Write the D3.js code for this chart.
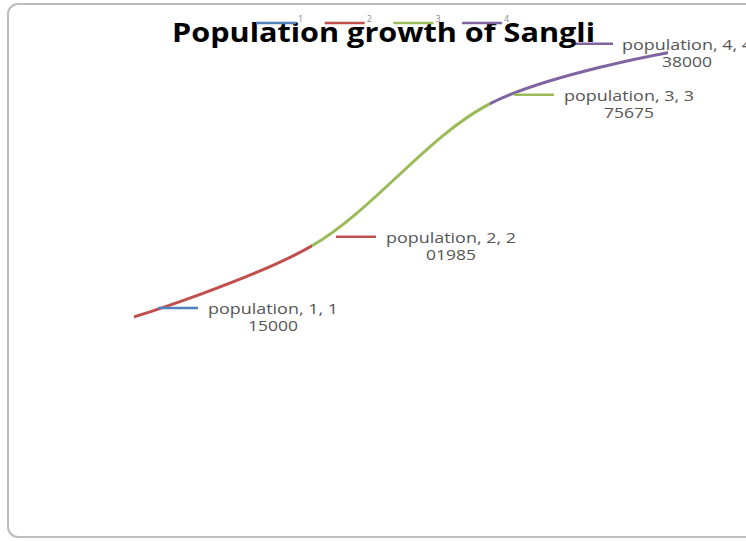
<!DOCTYPE html>
<html><head><meta charset="utf-8">
<script src="https://cdn.jsdelivr.net/npm/d3@7"></script>
<style>html,body{margin:0;padding:0;background:#fff;}svg{display:block;}</style>
</head><body>
<svg id="chart" width="746" height="541"></svg>
<script>
const categories = ["1", "2", "3", "4"];
const seriesName = "population";
const values = [115000, 201985, 375675, 438000];
const colors = ["#4f81bd", "#c0504d", "#9bbb59", "#8064a2"];
const title = "Population growth of Sangli";

const svg = d3.select("#chart");
const W = 746, H = 541;

// frame
svg.append("rect").attr("x", 8).attr("y", 4).attr("width", 760).attr("height", 533)
  .attr("rx", 10).attr("ry", 10).attr("fill", "#fff").attr("stroke", "#bdbdbd").attr("stroke-width", 2);

const x = d3.scalePoint().domain(categories).range([134, 668]);
const y = d3.scaleLinear().domain([0, 500000]).range([411, 2]);

const pts = categories.map((c, i) => ({c, v: values[i], i}));
const line = d3.line().x(d => x(d.c)).y(d => y(d.v)).curve(d3.curveCatmullRom.alpha(0.5));
const pathD = line(pts);

const defs = svg.append("defs");
// each segment colored by the point it leads to
for (let i = 1; i < pts.length; i++) {
  const x0 = x(pts[i - 1].c), x1 = x(pts[i].c);
  defs.append("clipPath").attr("id", "seg" + i)
    .append("rect").attr("x", x0).attr("y", 0).attr("width", x1 - x0).attr("height", H);
  svg.append("path").attr("d", pathD).attr("fill", "none")
    .attr("stroke", colors[i]).attr("stroke-width", 3).attr("stroke-linecap", "round")
    .attr("clip-path", `url(#seg${i})`);
}

// data labels with leader lines
const fontFam = "'Open Sans', 'DejaVu Sans', sans-serif";
pts.forEach((p, i) => {
  const px = x(p.c), py = y(p.v);
  const last = i === pts.length - 1;
  const lx0 = last ? px - 95 : px + 24;
  const ly = py - 9;
  svg.append("line").attr("x1", lx0).attr("x2", lx0 + 40).attr("y1", ly).attr("y2", ly)
    .attr("stroke", colors[i]).attr("stroke-width", 2.5);
  const tx = last ? px - 46 : px + 74;
  const first = `${seriesName}, ${p.c}, ${String(p.v)[0]}`;
  const rest = String(p.v).slice(1);
  const t = svg.append("text").attr("font-family", fontFam).attr("font-size", 14)
    .attr("fill", "#555");
  t.append("tspan").attr("x", tx).attr("y", ly + 6).attr("textLength", 130)
    .attr("lengthAdjust", "spacingAndGlyphs").text(first);
  t.append("tspan").attr("x", tx + 65 - 25).attr("y", ly + 23)
    .attr("textLength", 50).attr("lengthAdjust", "spacingAndGlyphs").text(rest);
});

// title
svg.append("text").attr("x", 172).attr("y", 42).attr("font-family", fontFam)
  .attr("font-weight", "bold").attr("font-size", 27).attr("fill", "#000")
  .attr("textLength", 423).attr("lengthAdjust", "spacingAndGlyphs").text(title);

// legend (overlapping the title, as in the reference)
const lg = svg.append("g");
categories.forEach((c, i) => {
  const lx = 256 + i * 68.7;
  lg.append("line").attr("x1", lx).attr("x2", lx + 40).attr("y1", 23).attr("y2", 23)
    .attr("stroke", colors[i]).attr("stroke-width", 2.5);
  lg.append("text").attr("x", lx + 42).attr("y", 22).attr("font-family", fontFam)
    .attr("font-size", 9).attr("fill", "#8a8a8a").text(c);
});
</script>
</body></html>
